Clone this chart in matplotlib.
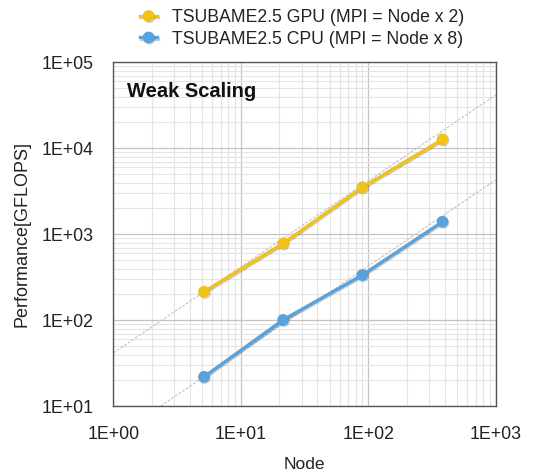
import matplotlib
matplotlib.use("Agg")
import matplotlib.pyplot as plt
import matplotlib.patheffects as pe
from matplotlib.ticker import LogLocator, FixedLocator
import numpy as np

plt.rcParams['font.family'] = ['Liberation Sans', 'DejaVu Sans']

nodes_gpu = [5.15, 21.5, 90, 383]
perf_gpu = [215, 785, 3520, 12700]
nodes_cpu = [5.15, 21.5, 90, 383]
perf_cpu = [22, 101, 336, 1400]
ideal_gpu_coef = 41.7
ideal_cpu_coef = 4.27

label_gpu = "TSUBAME2.5 GPU (MPI = Node x 2)"
label_cpu = "TSUBAME2.5 CPU (MPI = Node x 8)"
xticks = [1, 10, 100, 1000]
xticklabels = ["1E+00", "1E+01", "1E+02", "1E+03"]
yticks = [10, 100, 1000, 10000, 100000]
yticklabels = ["1E+01", "1E+02", "1E+03", "1E+04", "1E+05"]

fig = plt.figure(figsize=(5.37, 4.74), dpi=100)
ax = fig.add_axes([0.211, 0.1428, 0.712, 0.7258])
ax.set_xscale('log')
ax.set_yscale('log')
ax.set_xlim(1, 1000)
ax.set_ylim(10, 100000)

# grid
ax.xaxis.set_minor_locator(LogLocator(base=10, subs=np.arange(2, 10)))
ax.yaxis.set_minor_locator(LogLocator(base=10, subs=np.arange(2, 10)))
ax.grid(which='major', color='#c4c4c4', linewidth=0.9)
ax.grid(which='minor', color='#e4e4e4', linewidth=0.8)
ax.set_axisbelow(True)

# ideal lines
xs = np.array([1, 1000])
ax.plot(xs, ideal_gpu_coef * xs, color='#bdbdbd', lw=0.7, ls=(0, (3, 1.5)), zorder=2)
ax.plot(xs, ideal_cpu_coef * xs, color='#bdbdbd', lw=0.7, ls=(0, (3, 1.5)), zorder=2)

shadow = [pe.SimpleLineShadow(offset=(0.6, -0.8), shadow_color='k', alpha=0.2), pe.Normal()]
ax.plot(nodes_gpu, perf_gpu, color='#F0C31A', lw=2.4, marker='o', ms=7.5,
        label=label_gpu, zorder=4, path_effects=shadow)
ax.plot(nodes_cpu, perf_cpu, color='#5AA2DB', lw=2.4, marker='o', ms=7.5,
        label=label_cpu, zorder=4, path_effects=shadow)

ax.xaxis.set_major_locator(FixedLocator(xticks))
ax.set_xticklabels(xticklabels)
ax.yaxis.set_major_locator(FixedLocator(yticks))
ax.set_yticklabels(yticklabels)
ax.tick_params(which='both', length=0)
ax.tick_params(axis='x', pad=14, labelsize=12.8, colors='#222222')
ax.tick_params(axis='y', pad=14, labelsize=12.8, colors='#222222')
for s in ax.spines.values():
    s.set_color('#555555')
    s.set_linewidth(1.0)

ax.set_xlabel("Node", fontsize=12.5, labelpad=10, color='#222222')
ax.set_ylabel("Performance[GFLOPS]", fontsize=13, labelpad=8, color='#222222')

ax.text(0.035, 0.915, "Weak Scaling", transform=ax.transAxes, fontsize=14.5,
        fontweight='bold', ha='left', va='center', color='#111111')

leg = fig.legend(loc='center', bbox_to_anchor=(0.562, 0.94), frameon=False,
                 fontsize=12.7, handlelength=1.0, handletextpad=0.8, labelspacing=0.25,
                 borderpad=0)
for t in leg.get_texts():
    t.set_color('#222222')

fig.savefig("out.png", dpi=100)
